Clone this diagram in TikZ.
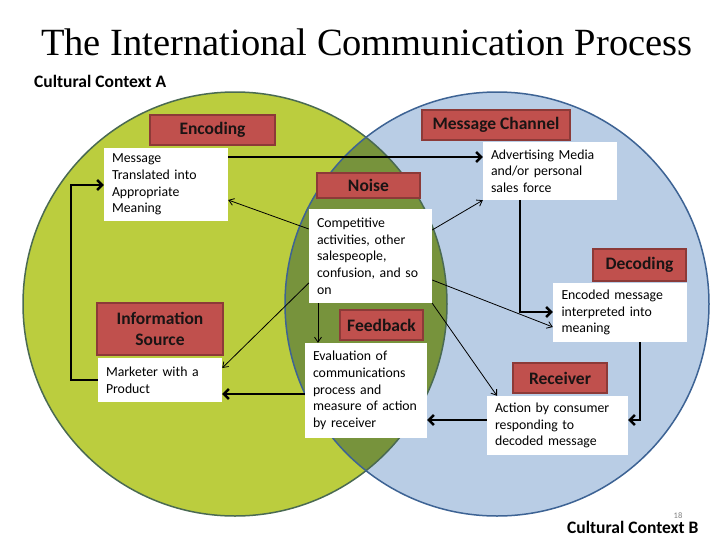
\documentclass[tikz,border=0pt]{standalone}
\usepackage{fontspec}
\setmainfont{Carlito}
\newfontfamily\titlefont{Liberation Serif}
\usetikzlibrary{arrows.meta,calc}
\definecolor{leftfill}{RGB}{187,205,62}
\definecolor{rightfill}{RGB}{185,205,229}
\definecolor{lensfill}{RGB}{119,147,60}
\definecolor{leftline}{RGB}{74,106,82}
\definecolor{rightline}{RGB}{61,99,148}
\definecolor{redfill}{RGB}{192,80,77}
\definecolor{redline}{RGB}{140,58,56}
\definecolor{txtdark}{RGB}{26,20,20}
\begin{document}
\begin{tikzpicture}[x=1pt,y=-1pt,
  redbox/.style={draw=redline, fill=redfill, line width=1.2pt,
    font=\fontsize{17.5}{21}\selectfont\bfseries, text=txtdark,
    inner sep=0pt, align=center},
  whitebox/.style={fill=white, inner xsep=8pt, inner ysep=0pt, align=left,
    font=\fontsize{13.8}{16.7}\selectfont},
  thickarrow/.style={line width=2.4pt, -{Straight Barb[length=5pt,width=10pt]}},
  thinarrow/.style={line width=0.8pt, -{Straight Barb[length=5pt,width=7pt]}},
]
\useasboundingbox (0,0) rectangle (728,546);
\fill[white] (0,0) rectangle (728,546);

% circles
\fill[leftfill] (235,304) circle[radius=212pt];
\fill[rightfill] (497,304) circle[radius=212pt];
\begin{scope}
  \clip (235,304) circle[radius=212pt];
  \fill[lensfill] (497,304) circle[radius=212pt];
\end{scope}
\draw[leftline, line width=1.5pt] (235,304) circle[radius=212pt];
\draw[rightline, line width=1.5pt] (497,304) circle[radius=212pt];

% texts
\node[anchor=base west, inner sep=0pt, font=\titlefont\fontsize{38.5}{40}\selectfont] (title) at (41,55) {The International Communication Process};
\node[anchor=base west, inner sep=0pt, font=\fontsize{17.5}{20}\selectfont\bfseries] (ctxa) at (34,87.5) {Cultural Context A};
\node[anchor=base west, inner sep=0pt, font=\fontsize{17.5}{20}\selectfont\bfseries] (ctxb) at (567,533) {Cultural Context B};
\node[inner sep=0pt, text=gray, font=\fontsize{8.5}{9}\selectfont] (pnum) at (678,515.5) {18};

% red label boxes
\node[redbox, minimum width=125pt, minimum height=30pt] (enc) at (212.5,130) {Encoding};
\node[redbox, minimum width=148pt, minimum height=30pt] (mch) at (496,125) {Message Channel};
\node[redbox, minimum width=103pt, minimum height=25pt] (noise) at (368.5,185.5) {Noise};
\node[redbox, minimum width=93pt, minimum height=32pt] (dec) at (639.5,265) {Decoding};
\node[redbox, minimum width=126pt, minimum height=52pt] (info) at (160,329) {Information\\Source};
\node[redbox, minimum width=83pt, minimum height=30pt] (fb) at (381.5,325) {Feedback};
\node[redbox, minimum width=94pt, minimum height=30pt] (rec) at (560,378) {Receiver};

% white text boxes
\node[whitebox, text width=108pt, minimum height=73pt] (msg) at (166,184.5) {Message\\Translated into\\Appropriate\\Meaning};
\node[whitebox, text width=107pt, minimum height=94pt] (nz) at (370.5,256) {Competitive\\activities, other\\salespeople,\\confusion, and so\\on};
\node[whitebox, text width=118pt, minimum height=58pt] (adv) at (550,171) {Advertising Media\\and/or personal\\sales force};
\node[whitebox, text width=117pt, minimum height=59pt, inner xsep=8.5pt] (encm) at (620,312.5) {Encoded message\\interpreted into\\meaning};
\node[whitebox, text width=108pt, minimum height=44pt] (mkt) at (160,380) {Marketer with a\\Product};
\node[whitebox, text width=106pt, minimum height=95pt] (eval) at (366,390.5) {Evaluation of\\communications\\process and\\measure of action\\by receiver};
\node[whitebox, text width=125pt, minimum height=59pt] (act) at (557.5,425.5) {Action by consumer\\responding to\\decoded message};

% thick arrows (main loop)
\draw[thickarrow] (msg.east |- 0,157) -- (adv.west |- 0,157);
\draw[thickarrow] (adv.south -| 520,0) |- (encm.west |- 0,312);
\draw[thickarrow] (encm.south -| 640,0) |- (act.east |- 0,420);
\draw[thickarrow] (act.west |- 0,420) -- (eval.east |- 0,420);
\draw[thickarrow] (eval.west |- 0,394) -- (mkt.east |- 0,394);
\draw[thickarrow] (mkt.west |- 0,380) -| (71,185) -- (msg.west |- 0,185);

% thin arrows (noise)
\draw[thinarrow] (nz.west |- 0,229) -- (msg.east |- 0,200);
\draw[thinarrow] (nz.east |- 0,230) -- (adv.south west);
\draw[thinarrow] (nz.east |- 0,280) -- (encm.west |- 0,327);
\draw[thinarrow] (nz.south east) -- (act.north -| 497,0);
\draw[thinarrow] (nz.west |- 0,283) -- (mkt.east |- 0,368);
\draw[thinarrow] (nz.south -| 318,0) -- (eval.north -| 318,0);
\end{tikzpicture}
\end{document}
